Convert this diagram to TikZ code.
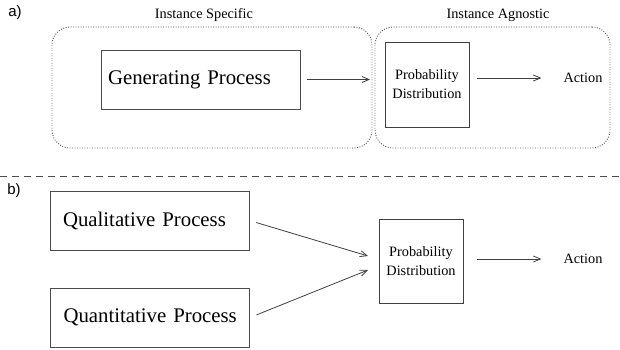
\documentclass[tikz,border=0pt]{standalone}
\usepackage{fontspec}
\setmainfont{Liberation Serif}
\newfontfamily\tagfont{Liberation Sans}
\usetikzlibrary{arrows.meta}

\begin{document}
\begin{tikzpicture}[x=1pt,y=-1pt]
        \tikzstyle{region}=[draw=black!70,line width=0.9pt,dash pattern=on 0.9pt off 1.6pt,rounded corners=18pt,inner sep=0pt]
        \tikzstyle{process}=[draw=black!70,line width=1pt,minimum width=199pt,minimum height=59pt,inner xsep=7pt,text width=185pt,align=left,font=\fontsize{20.8}{24}\selectfont]
        \tikzstyle{indent}=[execute at begin node=\hspace*{6pt}]
        \tikzstyle{dist}=[draw=black!75,line width=0.9pt,minimum width=84pt,minimum height=85pt,inner sep=0pt,align=center,font=\fontsize{14.3}{19}\selectfont]
        \tikzstyle{small}=[inner sep=0pt,font=\fontsize{14.3}{17}\selectfont]
        \tikzstyle{tag}=[inner sep=0pt,font=\tagfont\fontsize{15}{18}\selectfont]
        \tikzstyle{edge}=[draw=black!75,line width=0.8pt]
        \tikzstyle{tip}=[-{Straight Barb[length=7pt,width=6pt]}]
        \tikzstyle{cut}=[draw=black!70,line width=0.8pt,dash pattern=on 7pt off 5pt]

        \useasboundingbox (0,0) rectangle (620,349);

        % a) instance specific / agnostic
        \begin{scope}
         \node [tag] (taga) at (15,13) {a)};
         \node [region,minimum width=320pt,minimum height=121pt] (specbox) at (212,87.5) {};
         \node [region,minimum width=235pt,minimum height=121pt] (agnbox) at (492.5,87.5) {};
         \node [small] (spec) at (204,15) {Instance Specific};
         \node [small] (agn) at (498,15) {Instance Agnostic};

         \node [process] (gen) at (200.5,79.5) {Generating Process};
         \node [dist] (dista) at (427,84.5) {Probability\\Distribution};
         \node [small] (acta) at (583,78) {Action};
         \coordinate (gin) at (370,79.5);

         \path[edge] (gen) edge [tip,shorten <=6pt] (gin);
         \path[edge] (dista.east |- acta) edge [tip,shorten <=8pt,shorten >=22pt] (acta.west);
        \end{scope}

        \coordinate (cutl) at (0,176);
        \coordinate (cutr) at (620,176);
        \path[cut] (cutl) -- (cutr);

        % b) qualitative and quantitative
        \begin{scope}
         \node [tag] (tagb) at (14,191) {b)};
         \node [process,indent] (qual) at (149.5,220.5) {Qualitative Process};
         \node [process,indent] (quant) at (150,317.5) {Quantitative Process};
         \node [dist,minimum height=84pt] (distb) at (421,261) {Probability\\Distribution};
         \node [small] (actb) at (583,259) {Action};
         \coordinate (inq) at (368,256);
         \coordinate (inn) at (368,270);

         \path[edge] (qual.east) edge [tip,shorten <=7pt] (inq);
         \path[edge] (quant.east) edge [tip,shorten <=7pt] (inn);
         \path[edge] (distb.east |- actb) edge [tip,shorten <=14pt,shorten >=22pt] (actb.west);
        \end{scope}
      \end{tikzpicture}
\end{document}
